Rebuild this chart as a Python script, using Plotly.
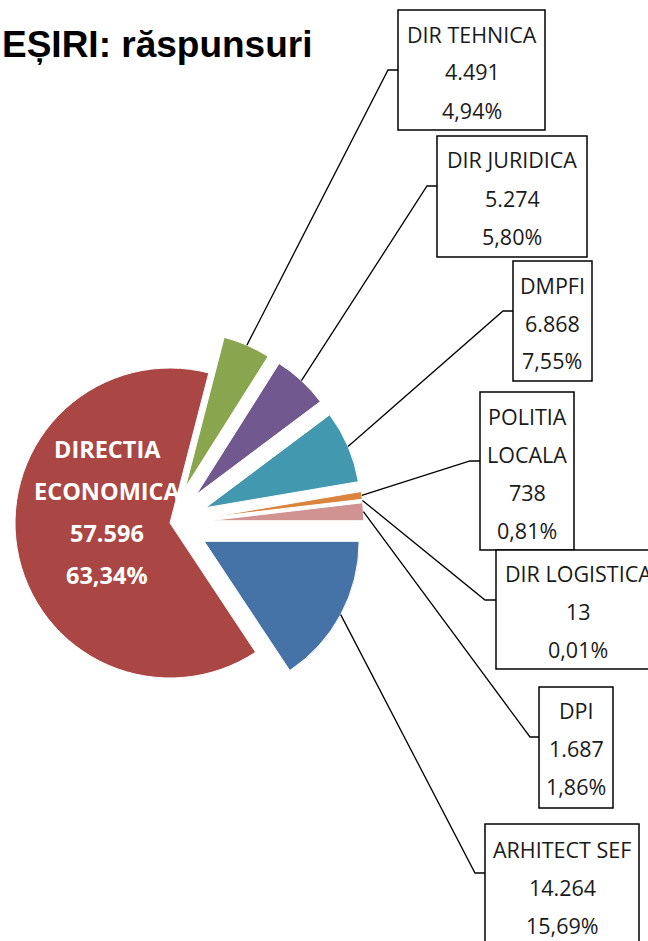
import math
import plotly.graph_objects as go

# ---------------- data ----------------
categories = ["ARHITECT SEF", "DIRECTIA ECONOMICA", "DIR TEHNICA", "DIR JURIDICA",
              "DMPFI", "POLITIA LOCALA", "DIR LOGISTICA", "DPI"]
responses = [14264, 57596, 4491, 5274, 6868, 738, 13, 1687]
label_names = [["ARHITECT SEF"], ["DIRECTIA", "ECONOMICA"], ["DIR TEHNICA"], ["DIR JURIDICA"],
               ["DMPFI"], ["POLITIA", "LOCALA"], ["DIR LOGISTICA"], ["DPI"]]
title_text = "EȘIRI: răspunsuri"

# ---------------- style / layout ----------------
colors = ["#4572A7", "#AA4643", "#89A54E", "#71588F", "#4198AF", "#DB843D", "#93A9CF", "#D19392"]
explode = [0.25, 0.0, 0.25, 0.25, 0.25, 0.25, 0.25, 0.25]
W, H = 648, 941
CX, CY, R = 170, 523, 155          # pie centre and radius in pixels
LINE_GAP = 38

# label boxes: (left, top, right, bottom, elbow_x, elbow_y, centre_x, first_line_y)
boxes = {
    "ARHITECT SEF": (485, 824, 639, 960, 475, 873, 562, 849),
    "DIR TEHNICA": (398, 10, 545, 130, 388, 70, 472, 34),
    "DIR JURIDICA": (437, 136, 587, 257, 427, 186, 512, 160),
    "DMPFI": (513, 261, 592, 381, 503, 311, 552, 285),
    "POLITIA LOCALA": (480, 392, 574, 550, 470, 461, 527, 416),
    "DIR LOGISTICA": (496, 550, 660, 669, 485, 600, 578, 573),
    "DPI": (539, 687, 613, 808, 530, 737, 576, 710),
}
inside_label = (107, 449, 42)      # centre x, first line y, line gap


def px(x):
    return x / W


def py(y):
    return 1 - y / H


def fmt_int(v):
    return f"{v:,}".replace(",", ".")


def fmt_pct(p):
    return f"{p:.2f}".replace(".", ",") + "%"


total = sum(responses)
n = len(responses)

fig = go.Figure()
shapes = []
annotations = []

cum = 0
for i, v in enumerate(responses):
    mid = (cum + v / 2) / total * 2 * math.pi      # clockwise from 3 o'clock
    cum += v
    off = explode[i] * R
    cx = CX + off * math.cos(mid)
    cy = CY + off * math.sin(mid)
    fig.add_trace(go.Pie(
        values=responses,
        labels=categories,
        sort=False,
        direction="clockwise",
        rotation=90,
        marker=dict(
            colors=[colors[j] if j == i else "rgba(0,0,0,0)" for j in range(n)],
            line=dict(color="white", width=[1 if j == i else 0 for j in range(n)]),
        ),
        textinfo="none",
        hoverinfo="label+value+percent",
        domain=dict(x=[px(cx - R), px(cx + R)], y=[py(cy + R), py(cy - R)]),
        showlegend=False,
    ))

    lines = label_names[i] + [fmt_int(v), fmt_pct(100 * v / total)]
    name = categories[i]
    if name in boxes:
        l, t, r_, b, ex, ey, tx, ty = boxes[name]
        sx = CX + (R + off) * math.cos(mid)
        sy = CY + (R + off) * math.sin(mid)
        shapes.append(dict(type="path", xref="paper", yref="paper",
                           path=f"M {px(sx)},{py(sy)} L {px(ex)},{py(ey)} L {px(l)},{py(ey)}",
                           line=dict(color="black", width=1.3)))
        shapes.append(dict(type="rect", xref="paper", yref="paper",
                           x0=px(l), x1=px(r_), y0=py(b), y1=py(t),
                           line=dict(color="black", width=1.5), fillcolor="white", layer="below"))
        for k, txt in enumerate(lines):
            annotations.append(dict(text=txt, xref="paper", yref="paper", showarrow=False,
                                    x=px(tx), y=py(ty + k * LINE_GAP),
                                    xanchor="center", yanchor="middle",
                                    font=dict(family="Open Sans", size=21.5, color="#1a1a1a")))
    else:
        ix, iy, gap = inside_label
        for k, txt in enumerate(lines):
            annotations.append(dict(text=f"<b>{txt}</b>", xref="paper", yref="paper", showarrow=False,
                                    x=px(ix), y=py(iy + k * gap),
                                    xanchor="center", yanchor="middle",
                                    font=dict(family="Open Sans", size=23.5, color="white")))

annotations.append(dict(text=f"<b>{title_text}</b>", xref="paper", yref="paper", showarrow=False,
                        x=0, y=py(44), xanchor="left", yanchor="middle",
                        font=dict(family="Liberation Sans, Arial", size=37, color="black")))

fig.update_layout(
    width=W, height=H,
    margin=dict(l=0, r=0, t=0, b=0),
    paper_bgcolor="white", plot_bgcolor="white",
    shapes=shapes, annotations=annotations,
    showlegend=False,
)

fig.write_html("out.html", config={"displayModeBar": False},
               post_script="document.body.style.margin = '0px';")
